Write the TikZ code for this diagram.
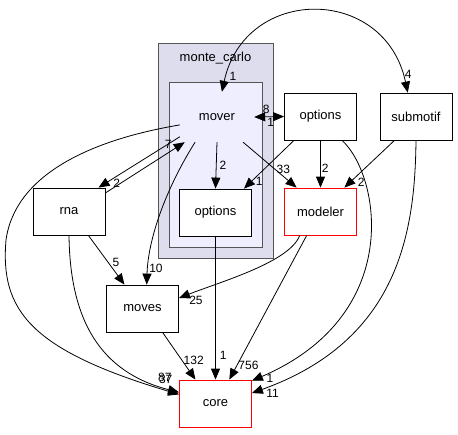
\documentclass[tikz,border=0pt]{standalone}
\usepackage{fontspec}
\setmainfont{Liberation Sans}
\usetikzlibrary{arrows.meta}
\definecolor{cluouter}{HTML}{DDDDEE}
\definecolor{cluinner}{HTML}{EEEEFF}
\definecolor{cluborder}{HTML}{555555}

\begin{document}
\begin{tikzpicture}[
    x=1pt, y=-1pt,
    dirbox/.style={rectangle, draw=black, fill=white, line width=0.8pt,
                 minimum width=72pt, minimum height=47pt, inner sep=0pt,
                 font=\fontsize{13}{13}\selectfont},
    redbox/.style={dirbox, draw=red},
    clubox/.style={rectangle, draw=cluborder, line width=0.8pt, inner sep=0pt},
    dep/.style={-{Triangle[length=11pt, width=9pt]}, line width=0.8pt},
    twoway/.style={{Triangle[length=11pt, width=9pt]}-{Triangle[length=11pt, width=9pt]}, line width=0.8pt},
    lbl/.style={font=\fontsize{12}{12}\selectfont, inner sep=1pt},
]
    \useasboundingbox (0,0) rectangle (458,434);

    % clusters
    \node[clubox, fill=cluouter, minimum width=115pt, minimum height=215pt] (monte_carlo) at (215.5,150.5) {};
    \node[anchor=base, font=\fontsize{13}{13}\selectfont] (mc_title) at (215.5,61) {monte\_carlo};
    \node[clubox, fill=cluinner, minimum width=93pt, minimum height=165pt] (mover_clu) at (215.5,164.5) {};

    % directories
    \node[rectangle, minimum width=74pt, minimum height=50pt, inner sep=0pt,
          font=\fontsize{13}{13}\selectfont] (mover) at (217,117) {mover};
    \node[dirbox] (opts_in) at (215.5,212.5) {options};
    \node[dirbox] (options) at (320.5,116.5) {options};
    \node[dirbox] (submotif) at (416,116.5) {submotif};
    \node[dirbox] (rna) at (69,211.5) {rna};
    \node[dirbox] (moves) at (142.5,308.5) {moves};
    \node[redbox] (modeler) at (320.5,211.5) {modeler};
    \node[redbox] (core) at (215.5,403.5) {core};

    % dependencies
    \draw[twoway] (mover.79) .. controls (245,-15) and (385,-15) .. (submotif.109)
        node[lbl, pos=0.05, right=2pt] {1} node[lbl, pos=0.95, right, yshift=3pt] {4};
    \draw[twoway] (mover.east) -- (options.west)
        node[lbl, pos=0.4, above, yshift=2pt] {8} node[lbl, pos=0.55, below] {1};
    \draw[dep] (mover.south) -- (opts_in.north) node[lbl, pos=0.5, right=2pt] {2};
    \draw[dep] (mover.-44) -- (modeler.135) node[lbl, pos=0.6, right] {33};
    \draw[dep] (mover.208) -- (rna.39) node[lbl, pos=0.8, below, xshift=2pt] {2};
    \draw[dep] (rna.27) -- (mover.218) node[lbl, pos=0.8, above left, xshift=4pt, yshift=2pt] {7};
    \draw[dep] (mover.229) .. controls (165,190) and (148,240) .. (moves.80)
        node[lbl, pos=0.88, right] {10};
    \draw[dep] (mover.192) .. controls (90,140) and (15,175) .. (6,240)
        .. controls (0,310) and (30,350) .. (core.166)
        node[lbl, pos=0.95, above right, yshift=3pt] {37};
    \draw[dep] (options.222) -- (opts_in.40) node[lbl, pos=0.85, right=3pt] {1};
    \draw[dep] (options.south) -- (modeler.north) node[lbl, pos=0.6, right] {2};
    \draw[dep] (submotif.228) -- (modeler.45) node[lbl, pos=0.88, right=6pt] {2};
    \draw[dep] (options.-48) .. controls (380,175) and (405,315) .. (core.32)
        node[lbl, pos=0.97, below right, yshift=2pt] {1};
    \draw[dep] (submotif.south) .. controls (415,230) and (400,340) .. (core.16)
        node[lbl, pos=0.97, below right] {11};
    \draw[dep] (modeler.229) .. controls (290,262) and (220,282) .. (moves.16)
        node[lbl, pos=0.93, below right] {25};
    \draw[dep] (modeler.240) -- (core.60) node[lbl, pos=0.9, right] {756};
    \draw[dep] (opts_in.south) -- (core.north) node[lbl, pos=0.83, right=3pt] {1};
    \draw[dep] (rna.-51) -- (moves.127) node[lbl, pos=0.55, right=3pt] {5};
    \draw[dep] (rna.south) .. controls (70,320) and (100,372) .. (core.163)
        node[lbl, pos=0.9, above right, yshift=2pt] {87};
    \draw[dep] (moves.-50) -- (core.130) node[lbl, pos=0.6, right] {132};
\end{tikzpicture}
\end{document}
